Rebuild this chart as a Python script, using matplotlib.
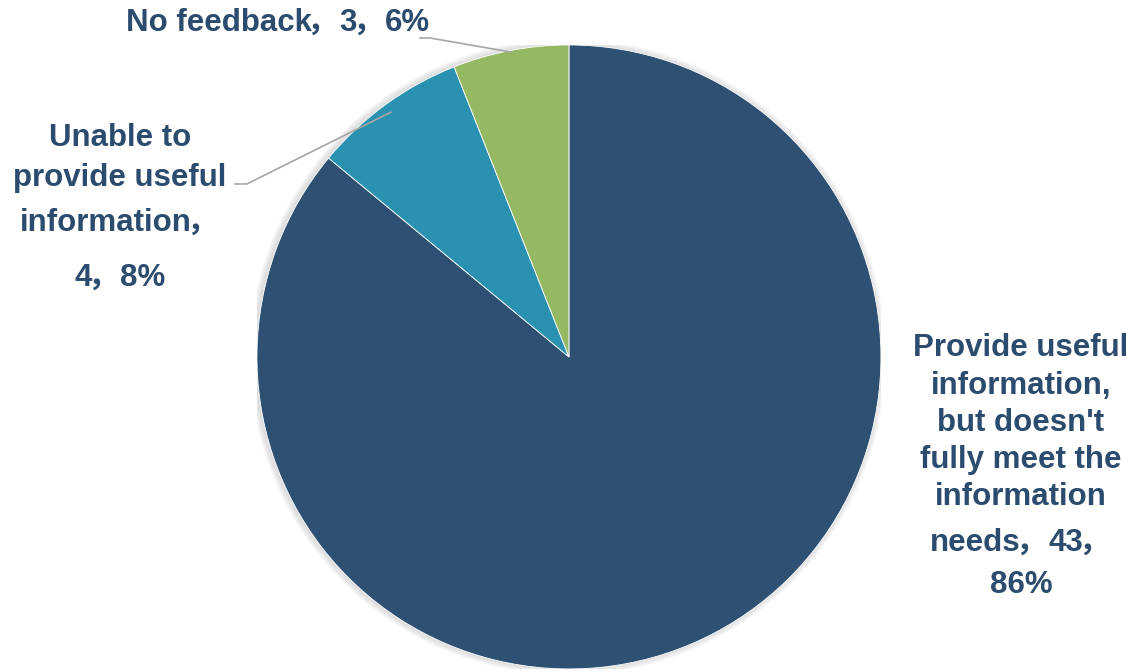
import re
import numpy as np
import matplotlib.pyplot as plt
from matplotlib.patches import Circle

# 資料
labels = ["Provide useful information, but doesn't fully meet the information needs",
          "Unable to provide useful information",
          "No feedback"]
counts = [43, 4, 3]
pcts = [86, 8, 6]
colors = ['#2E5072', '#2A91B0', '#95B963']
text_color = '#2B4C6F'
fsize = 22.5

fig = plt.figure(figsize=(11.37, 6.72), dpi=100)
ax = fig.add_axes([0.226, 0.0045, 0.5488, 0.9286])

# 外圍淡陰影
for i in range(1, 6):
    ax.add_patch(Circle((-0.004, 0.0), 1.0 + i * 0.004, color='#777777',
                        alpha=0.05, lw=0, zorder=0))

wedges, _ = ax.pie(counts, colors=colors, startangle=90, counterclock=False,
                   radius=1.0, wedgeprops=dict(linewidth=0.6, edgecolor='white'))
for w in wedges:
    w.set_zorder(2)
ax.set_xlim(-1, 1)
ax.set_ylim(-1, 1)
ax.set_aspect('equal')
ax.axis('off')

renderer = fig.canvas.get_renderer()
em = fsize * 100 / 72  # 字高(像素)


def px(x, y):
    # 像素位置 -> 資料座標
    return (x - 569) / 312, (357 - y) / 312


def mid_point(w, r=0.995):
    a = np.deg2rad((w.theta1 + w.theta2) / 2)
    return r * np.cos(a), r * np.sin(a)


def put_line(s, cx, y):
    # 全形逗號用CJK字型，其餘用Liberation Sans
    parts = [p for p in re.split('(，)', s) if p]
    items = []
    for p in parts:
        cjk = p == '，'
        t = ax.text(0, 0, p, ha='left', va='baseline', fontsize=fsize,
                    fontweight='bold', color=text_color, clip_on=False, zorder=5,
                    family='Noto Sans CJK SC' if cjk else 'Liberation Sans')
        w = 0.9 * em if cjk else t.get_window_extent(renderer).width
        items.append((t, w, cjk))
    total = sum(w for _, w, _ in items)
    x = cx - total / 2
    base = y + 11
    for t, w, cjk in items:
        t.set_position(px(x - (0.14 * em if cjk else 0), base))
        x += w


def put_lines(lines, cx, ys):
    for s, y in zip(lines, ys):
        put_line(s, cx, y)


# 標籤
put_lines(["Provide useful", "information,", "but doesn't", "fully meet the",
           "information", f"needs，{counts[0]}，", f"{pcts[0]}%"],
          1021, [345, 383, 420, 457, 494, 540, 582])
put_lines(["Unable to", "provide useful", "information，", f"{counts[1]}，{pcts[1]}%"],
          120, [135, 175, 220, 275])
put_lines([f"{labels[2]}，{counts[2]}，{pcts[2]}%"], 278, [20])

# 引導線
sx, sy = mid_point(wedges[2])
ax.plot([sx, px(430, 38)[0], px(420, 38)[0]], [sy, px(430, 38)[1], px(420, 38)[1]],
        color='#A6A6A6', lw=1.2, clip_on=False, zorder=3)
sx, sy = mid_point(wedges[1], r=0.97)
ax.plot([sx, px(247, 184)[0], px(235, 184)[0]], [sy, px(247, 184)[1], px(235, 184)[1]],
        color='#A6A6A6', lw=1.2, clip_on=False, zorder=3)

fig.savefig('out.png', dpi=100)
